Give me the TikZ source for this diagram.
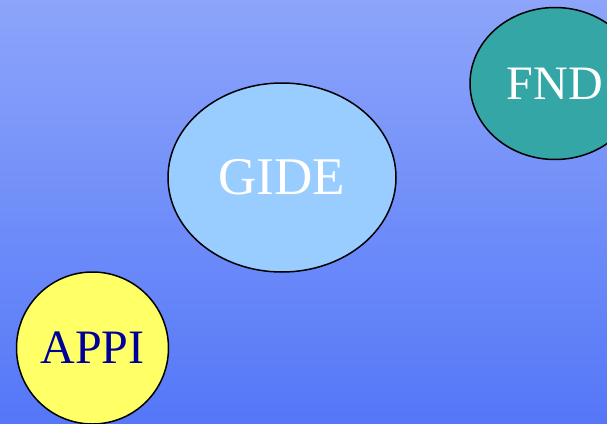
\documentclass[tikz,border=0pt]{standalone}
\usepackage{fontspec}
\setmainfont{Liberation Serif}
\usetikzlibrary{shapes.geometric}
\definecolor{skytop}{HTML}{8CA5FA}
\definecolor{skybottom}{HTML}{5577F8}
\definecolor{paleblue}{HTML}{99CCFF}
\definecolor{tealgreen}{HTML}{35A6A6}
\definecolor{lightyellow}{HTML}{FFFF66}
\definecolor{navyblue}{HTML}{000099}

\begin{document}
\begin{tikzpicture}[x=1pt, y=-1pt]
% Define styles
\tikzstyle{blob} = [ellipse, draw=black, line width=1.5pt, inner sep=0pt, text centered]
\tikzstyle{bigtext} = [font=\fontsize{53}{58}\selectfont]
\tikzstyle{midtext} = [font=\fontsize{48}{53}\selectfont]

% Background
\clip (0,0) rectangle (607,423);
\shade[top color=skytop, bottom color=skybottom] (0,0) rectangle (607,423);

% Nodes
\node (gide) [blob, bigtext, fill=paleblue, text=white, minimum width=228pt, minimum height=189pt] at (282,177.5) {GIDE};
\node (fnd) [blob, midtext, fill=tealgreen, text=white, minimum width=170pt, minimum height=152pt] at (555,83.5) {FND};
\node (appi) [blob, midtext, fill=lightyellow, text=navyblue, minimum width=152pt, minimum height=152pt] at (92.5,348) {APPI};
\end{tikzpicture}
\end{document}
